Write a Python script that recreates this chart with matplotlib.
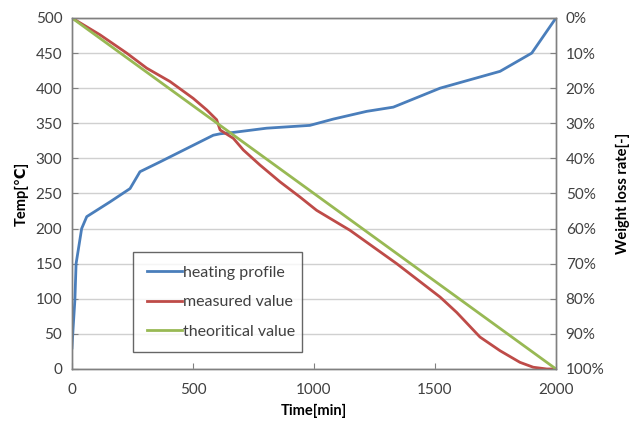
import matplotlib
matplotlib.use("Agg")
import matplotlib.pyplot as plt
from matplotlib.ticker import FuncFormatter

# values
heat_time = [0, 5, 12, 17, 40, 61, 157, 240, 281, 364, 474, 584, 612, 667, 804, 983,
             1080, 1218, 1328, 1521, 1769, 1900, 2000]
heat_temp = [30, 60, 98, 150, 200, 217, 238, 257, 281, 295, 314, 333, 335, 337, 343, 347,
             356, 367, 373, 400, 424, 450, 500]

meas_time = [0, 116, 226, 309, 405, 501, 557, 598, 612, 667, 708, 777, 860, 942, 1011,
             1149, 1342, 1521, 1590, 1686, 1769, 1851, 1906, 1962, 2000]
meas_loss = [0, 4.8, 10, 14.3, 18.1, 22.9, 26.2, 29, 31.9, 34.3, 37.6, 41.9, 46.7, 51, 54.8,
             60.5, 70, 79.5, 83.9, 90.9, 94.8, 98.1, 99.5, 100, 100]

theo_time = [0, 2000]
theo_loss = [0, 100]

temp_ticks = list(range(0, 501, 50))
loss_ticks = list(range(0, 101, 10))
time_ticks = [0, 500, 1000, 1500, 2000]

plt.rcParams['font.family'] = ['Lato', 'DejaVu Sans']
tick_col = '#404040'
spine_col = '#808080'

fig = plt.figure(figsize=(6.33, 4.23), dpi=100)
ax = fig.add_axes([0.1137, 0.1277, 0.7646, 0.8298])
ax2 = ax.twinx()

l1, = ax.plot(heat_time, heat_temp, color='#4a7ebb', lw=2.0, label='heating profile')
l2, = ax2.plot(meas_time, meas_loss, color='#be4b48', lw=2.0, label='measured value')
l3, = ax2.plot(theo_time, theo_loss, color='#98b954', lw=2.0, label='theoritical value')

ax.set_xlim(0, 2000)
ax.set_ylim(0, 500)
ax2.set_ylim(100, 0)
ax.set_xticks(time_ticks)
ax.set_yticks(temp_ticks)
ax2.set_yticks(loss_ticks)
ax2.yaxis.set_major_formatter(FuncFormatter(lambda v, p: f"{int(v)}%"))

ax.grid(axis='y', color='#d0d0d0', lw=1.0)
ax.set_axisbelow(True)

for a in (ax, ax2):
    for s in a.spines.values():
        s.set_color(spine_col)
        s.set_linewidth(1.0)
    a.tick_params(direction='in', length=4, color=spine_col, labelcolor=tick_col,
                  labelsize=11)
ax.tick_params(axis='y', pad=7)
ax.tick_params(axis='x', pad=10)
ax2.tick_params(axis='y', pad=7)

ax.set_xlabel('Time[min]', fontsize=10.5, fontweight='bold', labelpad=5)
ax.set_ylabel('Temp[℃]', fontsize=10.5, fontweight='bold', labelpad=5)
ax2.set_ylabel('Weight loss rate[-]', fontsize=10.5, fontweight='bold', labelpad=8)

leg = ax2.legend(handles=[l1, l2, l3], loc='lower left',
                 bbox_to_anchor=(0.126, 0.048, 0.349, 0.285), mode='expand',
                 fontsize=11.5, frameon=True, fancybox=False, handlelength=2.2,
                 handletextpad=0.1, labelspacing=0.95, borderpad=0.85,
                 borderaxespad=0.0)
leg.get_frame().set_edgecolor('#404040')
leg.get_frame().set_linewidth(1.0)
for t in leg.get_texts():
    t.set_color(tick_col)

fig.savefig('out.png', dpi=100)
